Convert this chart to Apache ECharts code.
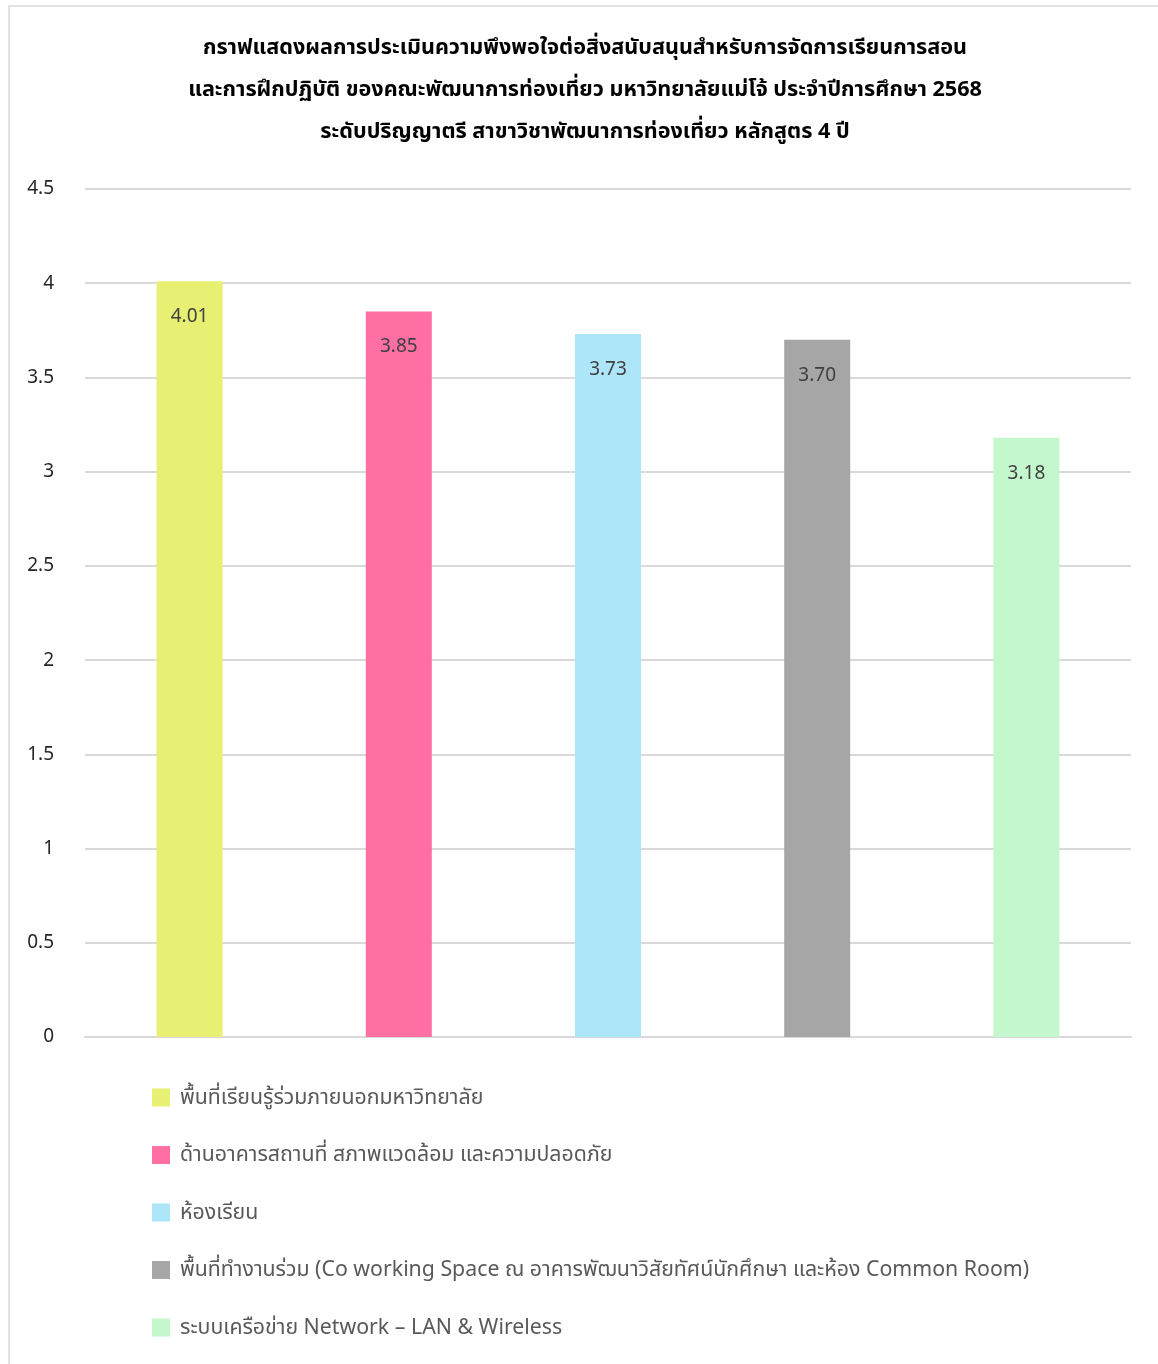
<!DOCTYPE html>
<html>
<head>
<meta charset="utf-8">
<script src="https://cdn.jsdelivr.net/npm/echarts@6/dist/echarts.min.js"></script>
<style>
html,body{margin:0;padding:0;background:#fff;}
#c{width:1158px;height:1364px;}
</style>
</head>
<body>
<div id="c"></div>
<script>
const titleLines = [
  'กราฟแสดงผลการประเมินความพึงพอใจต่อสิ่งสนับสนุนสำหรับการจัดการเรียนการสอน',
  'และการฝึกปฏิบัติ ของคณะพัฒนาการท่องเที่ยว มหาวิทยาลัยแม่โจ้ ประจำปีการศึกษา 2568',
  'ระดับปริญญาตรี สาขาวิชาพัฒนาการท่องเที่ยว หลักสูตร 4 ปี'
];
const categories = [
  'พื้นที่เรียนรู้ร่วมภายนอกมหาวิทยาลัย',
  'ด้านอาคารสถานที่ สภาพแวดล้อม และความปลอดภัย',
  'ห้องเรียน',
  'พื้นที่ทำงานร่วม (Co working Space ณ อาคารพัฒนาวิสัยทัศน์นักศึกษา และห้อง Common Room)',
  'ระบบเครือข่าย Network – LAN & Wireless'
];
const values = [4.01, 3.85, 3.73, 3.70, 3.18];
const colors = ['#E7F072', '#FF6FA3', '#ACE6F8', '#A6A6A6', '#C4F7CC'];
const yTicks = {min: 0, max: 4.5, interval: 0.5};

const font = '"Noto Sans", "Noto Sans Thai", Tahoma, sans-serif';
const chart = echarts.init(document.getElementById('c'), null, {renderer: 'canvas'});

const series = categories.map((name, i) => ({
  name: name,
  type: 'bar',
  stack: 'all',
  barWidth: 66,
  itemStyle: {color: colors[i]},
  data: values.map((v, j) => j === i ? v : '-'),
  label: {
    show: true,
    position: 'insideTop',
    distance: 26,
    color: '#404040',
    fontSize: 19,
    fontFamily: font,
    formatter: p => Number(p.value).toFixed(2)
  }
}));

chart.setOption({
  animation: false,
  backgroundColor: '#fff',
  textStyle: {fontFamily: font},
  graphic: [{
    type: 'rect',
    shape: {x: 9, y: 6, width: 1300, height: 1500},
    style: {fill: 'none', stroke: '#D9D9D9', lineWidth: 1.5},
    silent: true
  }],
  title: {
    text: titleLines.join('\n'),
    left: 580,
    textAlign: 'center',
    top: 22,
    textStyle: {fontSize: 21.6, fontWeight: 'bold', color: '#000', lineHeight: 42, fontFamily: font}
  },
  grid: {left: 85, right: 27, top: 189, height: 848, containLabel: false},
  xAxis: {
    type: 'category',
    data: categories,
    axisLine: {show: true, lineStyle: {color: '#D9D9D9', width: 2}},
    axisTick: {show: false},
    axisLabel: {show: false}
  },
  yAxis: {
    type: 'value',
    min: yTicks.min,
    max: yTicks.max,
    interval: yTicks.interval,
    axisLine: {show: false},
    axisTick: {show: false},
    splitLine: {lineStyle: {color: '#D9D9D9', width: 2}},
    axisLabel: {
      color: '#262626',
      fontSize: 19,
      margin: 31,
      fontFamily: font,
      formatter: v => String(v)
    }
  },
  legend: {
    orient: 'vertical',
    left: 147,
    top: 1082,
    itemWidth: 18,
    itemHeight: 18,
    itemGap: 36.5,
    icon: 'rect',
    data: categories,
    textStyle: {fontSize: 21.3, color: '#595959', lineHeight: 24, fontFamily: font, padding: [0,0,-8,5]}
  },
  series: series
});
</script>
</body>
</html>
